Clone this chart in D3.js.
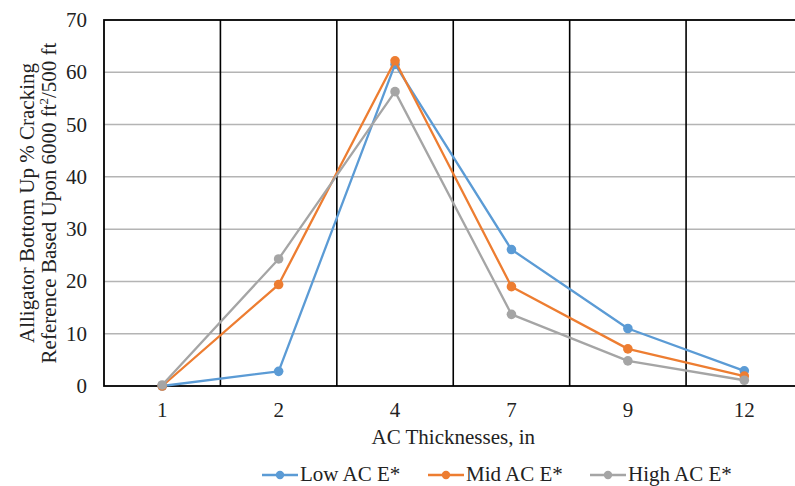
<!DOCTYPE html>
<html>
<head>
<meta charset="utf-8" />
<title>Alligator cracking vs AC thickness</title>
<script src="https://d3js.org/d3.v7.min.js"></script>
<style>
    html, body { margin: 0; padding: 0; background: #fff; overflow: hidden; }
    svg { display: block; }
</style>
</head>
<body>
<div id="chart"></div>
<script>
    var categories = ["1", "2", "4", "7", "9", "12"];
    var lowE = [0, 2.8, 61.5, 26.1, 11.0, 2.9];
    var midE = [0, 19.4, 62.2, 19.0, 7.1, 1.9];
    var highE = [0.2, 24.3, 56.3, 13.7, 4.8, 1.1];
    var yTicks = [0, 10, 20, 30, 40, 50, 60, 70];

    var series = [
        { name: "Low AC E*", values: lowE, color: "#5B9BD5" },
        { name: "Mid AC E*", values: midE, color: "#ED7D31" },
        { name: "High AC E*", values: highE, color: "#A5A5A5" }
    ];

    var width = 795, height = 486;
    var plotLeft = 104, plotRight = 802.5, plotTop = 20, plotBottom = 386;
    var serif = "'Liberation Serif', 'Times New Roman', Times, serif";
    var fs = 21;

    var svg = d3.select("#chart").append("svg")
        .attr("width", width)
        .attr("height", height)
        .attr("font-family", serif);

    var x = d3.scaleBand().domain(categories).range([plotLeft, plotRight]);
    var y = d3.scaleLinear().domain([0, 70]).range([plotBottom, plotTop]);

    // horizontal gridlines
    svg.append("g")
        .selectAll("line")
        .data(yTicks.slice(1, -1))
        .join("line")
        .attr("x1", plotLeft).attr("x2", plotRight)
        .attr("y1", function(d) { return y(d); })
        .attr("y2", function(d) { return y(d); })
        .attr("stroke", "#b4b4b4")
        .attr("stroke-width", 1.5);

    // vertical category separators
    svg.append("g")
        .selectAll("line")
        .data(categories.slice(1))
        .join("line")
        .attr("x1", function(d) { return x(d); })
        .attr("x2", function(d) { return x(d); })
        .attr("y1", plotTop).attr("y2", plotBottom)
        .attr("stroke", "#000")
        .attr("stroke-width", 1.6);

    // plot border
    svg.append("rect")
        .attr("x", plotLeft).attr("y", plotTop)
        .attr("width", plotRight - plotLeft).attr("height", plotBottom - plotTop)
        .attr("fill", "none")
        .attr("stroke", "#000")
        .attr("stroke-width", 1.8);

    // y tick labels
    svg.append("g")
        .selectAll("text")
        .data(yTicks)
        .join("text")
        .attr("x", 87)
        .attr("y", function(d) { return y(d) + 7; })
        .attr("text-anchor", "end")
        .attr("font-size", fs)
        .attr("fill", "#222")
        .text(function(d) { return d; });

    // x tick labels
    svg.append("g")
        .selectAll("text")
        .data(categories)
        .join("text")
        .attr("x", function(d) { return x(d) + x.bandwidth() / 2; })
        .attr("y", 417)
        .attr("text-anchor", "middle")
        .attr("font-size", fs)
        .attr("fill", "#222")
        .text(function(d) { return d; });

    // axis titles
    svg.append("text")
        .attr("x", (plotLeft + plotRight) / 2)
        .attr("y", 444)
        .attr("text-anchor", "middle")
        .attr("font-size", fs)
        .attr("fill", "#222")
        .text("AC Thicknesses, in");

    var yt = svg.append("text")
        .attr("transform", "translate(0," + ((plotTop + plotBottom) / 2) + ") rotate(-90)")
        .attr("text-anchor", "middle")
        .attr("font-size", fs)
        .attr("fill", "#222");
    yt.append("tspan").attr("x", 0).attr("y", 34).text("Alligator  Bottom Up % Cracking");
    var l2 = yt.append("tspan").attr("x", 0).attr("y", 56);
    l2.append("tspan").text("Reference Based Upon 6000 ft");
    l2.append("tspan").attr("dy", -8).attr("font-size", 13).text("2");
    l2.append("tspan").attr("dy", 8).text("/500 ft");

    // series
    var line = d3.line()
        .x(function(d, i) { return x(categories[i]) + x.bandwidth() / 2; })
        .y(function(d) { return y(d); });

    series.forEach(function(s) {
        var g = svg.append("g");
        g.append("path")
            .attr("d", line(s.values))
            .attr("fill", "none")
            .attr("stroke", s.color)
            .attr("stroke-width", 2.3)
            .attr("stroke-linejoin", "round");
        g.selectAll("circle")
            .data(s.values)
            .join("circle")
            .attr("cx", function(d, i) { return x(categories[i]) + x.bandwidth() / 2; })
            .attr("cy", function(d) { return y(d); })
            .attr("r", 4.8)
            .attr("fill", s.color);
    });

    // legend
    var legendX = [262, 428, 590];
    var legend = svg.append("g");
    series.forEach(function(s, i) {
        var lx = legendX[i], ly = 475;
        legend.append("line")
            .attr("x1", lx).attr("x2", lx + 36)
            .attr("y1", ly).attr("y2", ly)
            .attr("stroke", s.color)
            .attr("stroke-width", 2.3);
        legend.append("circle")
            .attr("cx", lx + 18).attr("cy", ly)
            .attr("r", 4.2)
            .attr("fill", s.color);
        legend.append("text")
            .attr("x", lx + 38)
            .attr("y", ly + 6)
            .attr("font-size", fs)
            .attr("fill", "#222")
            .text(s.name);
    });
</script>
</body>
</html>
